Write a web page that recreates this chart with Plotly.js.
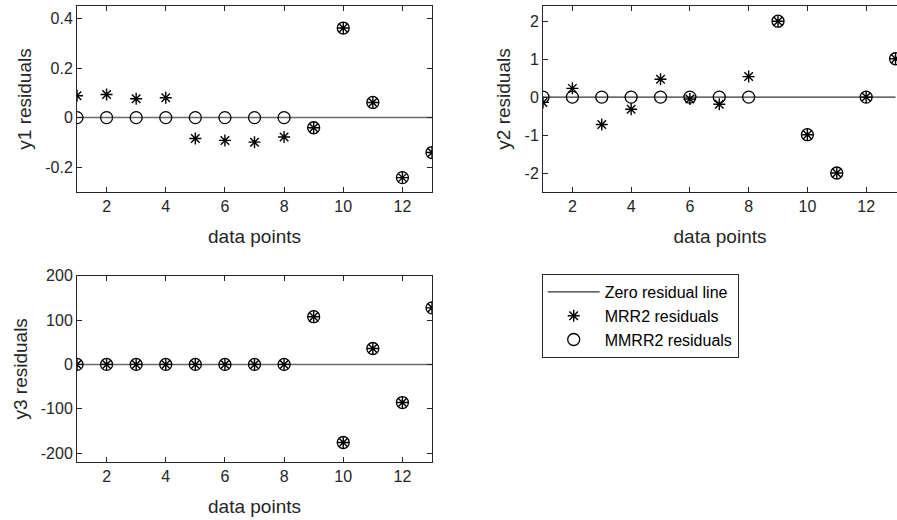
<!DOCTYPE html>
<html>
<head>
<meta charset="utf-8">
<script src="https://cdn.plot.ly/plotly-3.0.1.min.js"></script>
<style>html,body{margin:0;padding:0;background:#fff;}#chart{width:897px;height:520px;}</style>
</head>
<body>
<div id="chart"></div>
<script>
// ---- data ----
const dataPoints = [1,2,3,4,5,6,7,8,9,10,11,12,13];
const zeroLineX = [1, 13];
const zeroLineY = [0, 0];

const y1MRR2  = [0.088, 0.093, 0.076, 0.080, -0.084, -0.092, -0.099, -0.078, -0.041, 0.361, 0.061, -0.242, -0.141];
const y1MMRR2 = [0, 0, 0, 0, 0, 0, 0, 0, -0.041, 0.361, 0.061, -0.242, -0.141];

const y2MRR2  = [-0.14, 0.23, -0.72, -0.32, 0.47, -0.05, -0.19, 0.54, 2.00, -0.99, -2.00, 0.00, 1.01];
const y2MMRR2 = [0, 0, 0, 0, 0, 0, 0, 0, 2.00, -0.99, -2.00, 0.00, 1.01];

const y3MRR2  = [0, 0, 0, 0, 0, 0, 0, 0, 107.6, -176, 35.9, -86, 127.5];
const y3MMRR2 = [0, 0, 0, 0, 0, 0, 0, 0, 107.6, -176, 35.9, -86, 127.5];

// tick labels
const xTickVals = [2, 4, 6, 8, 10, 12];
const xTickText = ['2', '4', '6', '8', '10', '12'];
const y1TickVals = [-0.2, 0, 0.2, 0.4];
const y1TickText = ['-0.2', '0', '0.2', '0.4'];
const y2TickVals = [-2, -1, 0, 1, 2];
const y2TickText = ['-2', '-1', '0', '1', '2'];
const y3TickVals = [-200, -100, 0, 100, 200];
const y3TickText = ['-200', '-100', '0', '100', '200'];

const legendNames = ['Zero residual line', 'MRR2 residuals', 'MMRR2 residuals'];
const yTitles = ['y1 residuals', 'y2 residuals', 'y3 residuals'];
const xTitle = 'data points';

// ---- styles ----
const ink = '#262626';
const starMarker = {symbol: 'asterisk-open', size: 10, color: '#000', line: {color: '#000', width: 1.4}};
const circMarker = {symbol: 'circle-open', size: 12, color: '#000', line: {color: '#000', width: 1.3}};

function group(xa, ya, mrr, mmrr, lineColor, lineWidth, show) {
  return [
    {x: zeroLineX, y: zeroLineY, xaxis: xa, yaxis: ya, mode: 'lines', name: legendNames[0],
     line: {color: lineColor, width: lineWidth}, showlegend: show, hoverinfo: 'skip'},
    {x: dataPoints, y: mrr, xaxis: xa, yaxis: ya, mode: 'markers', name: legendNames[1],
     marker: starMarker, showlegend: show},
    {x: dataPoints, y: mmrr, xaxis: xa, yaxis: ya, mode: 'markers', name: legendNames[2],
     marker: circMarker, showlegend: show}
  ];
}

const traces = [].concat(
  group('x', 'y', y1MRR2, y1MMRR2, '#6a6a6a', 1.5, false),
  group('x2', 'y2', y2MRR2, y2MMRR2, '#000', 1, true),
  group('x3', 'y3', y3MRR2, y3MMRR2, '#6a6a6a', 1.5, false)
);

const fontFam = 'Liberation Sans, Arial, sans-serif';
function xax(domain, anchor, range) {
  return {domain: domain, anchor: anchor, range: range, tickmode: 'array',
    tickvals: xTickVals, ticktext: xTickText,
    ticks: 'inside', ticklen: 5, tickcolor: ink, showline: true, linecolor: ink, linewidth: 1,
    mirror: 'ticks', showgrid: false, zeroline: false,
    tickfont: {family: fontFam, size: 16, color: ink},
    title: {text: xTitle, font: {family: fontFam, size: 19, color: ink}, standoff: 15}};
}
function yax(domain, anchor, range, vals, text, title, mirror) {
  return {domain: domain, anchor: anchor, range: range, tickmode: 'array',
    tickvals: vals, ticktext: text,
    ticks: 'inside', ticklen: 5, tickcolor: ink, showline: true, linecolor: ink, linewidth: 1,
    mirror: mirror, showgrid: false, zeroline: false,
    tickfont: {family: fontFam, size: 16, color: ink},
    title: {text: title, font: {family: fontFam, size: 19, color: ink}, standoff: 8}};
}

const layout = {
  width: 897, height: 520,
  margin: {l: 0, r: 0, t: 0, b: 0},
  paper_bgcolor: '#fff', plot_bgcolor: '#fff',
  font: {family: fontFam, color: ink},
  showlegend: true,
  xaxis: xax([77/897, 432/897], 'y', [1, 13]),
  yaxis: yax([1 - 192/520, 1 - 6/520], 'x', [-0.3, 0.45], y1TickVals, y1TickText, yTitles[0], 'ticks'),
  xaxis2: xax([543/897, 1], 'y2', [1, 13.05]),
  yaxis2: yax([1 - 192/520, 1 - 6/520], 'x2', [-2.5, 2.4], y2TickVals, y2TickText, yTitles[1], false),
  xaxis3: xax([77/897, 432/897], 'y3', [1, 13]),
  yaxis3: yax([1 - 462/520, 1 - 275.7/520], 'x3', [-220, 200], y3TickVals, y3TickText, yTitles[2], 'ticks'),
  legend: {x: 541.7/897, y: 1 - 274/520, xanchor: 'left', yanchor: 'top',
    bgcolor: '#fff', bordercolor: ink, borderwidth: 1,
    font: {family: fontFam, size: 16, color: '#000'}, tracegroupgap: 0, itemwidth: 52}
};

Plotly.newPlot('chart', traces, layout, {staticPlot: true, displayModeBar: false});
</script>
</body>
</html>
